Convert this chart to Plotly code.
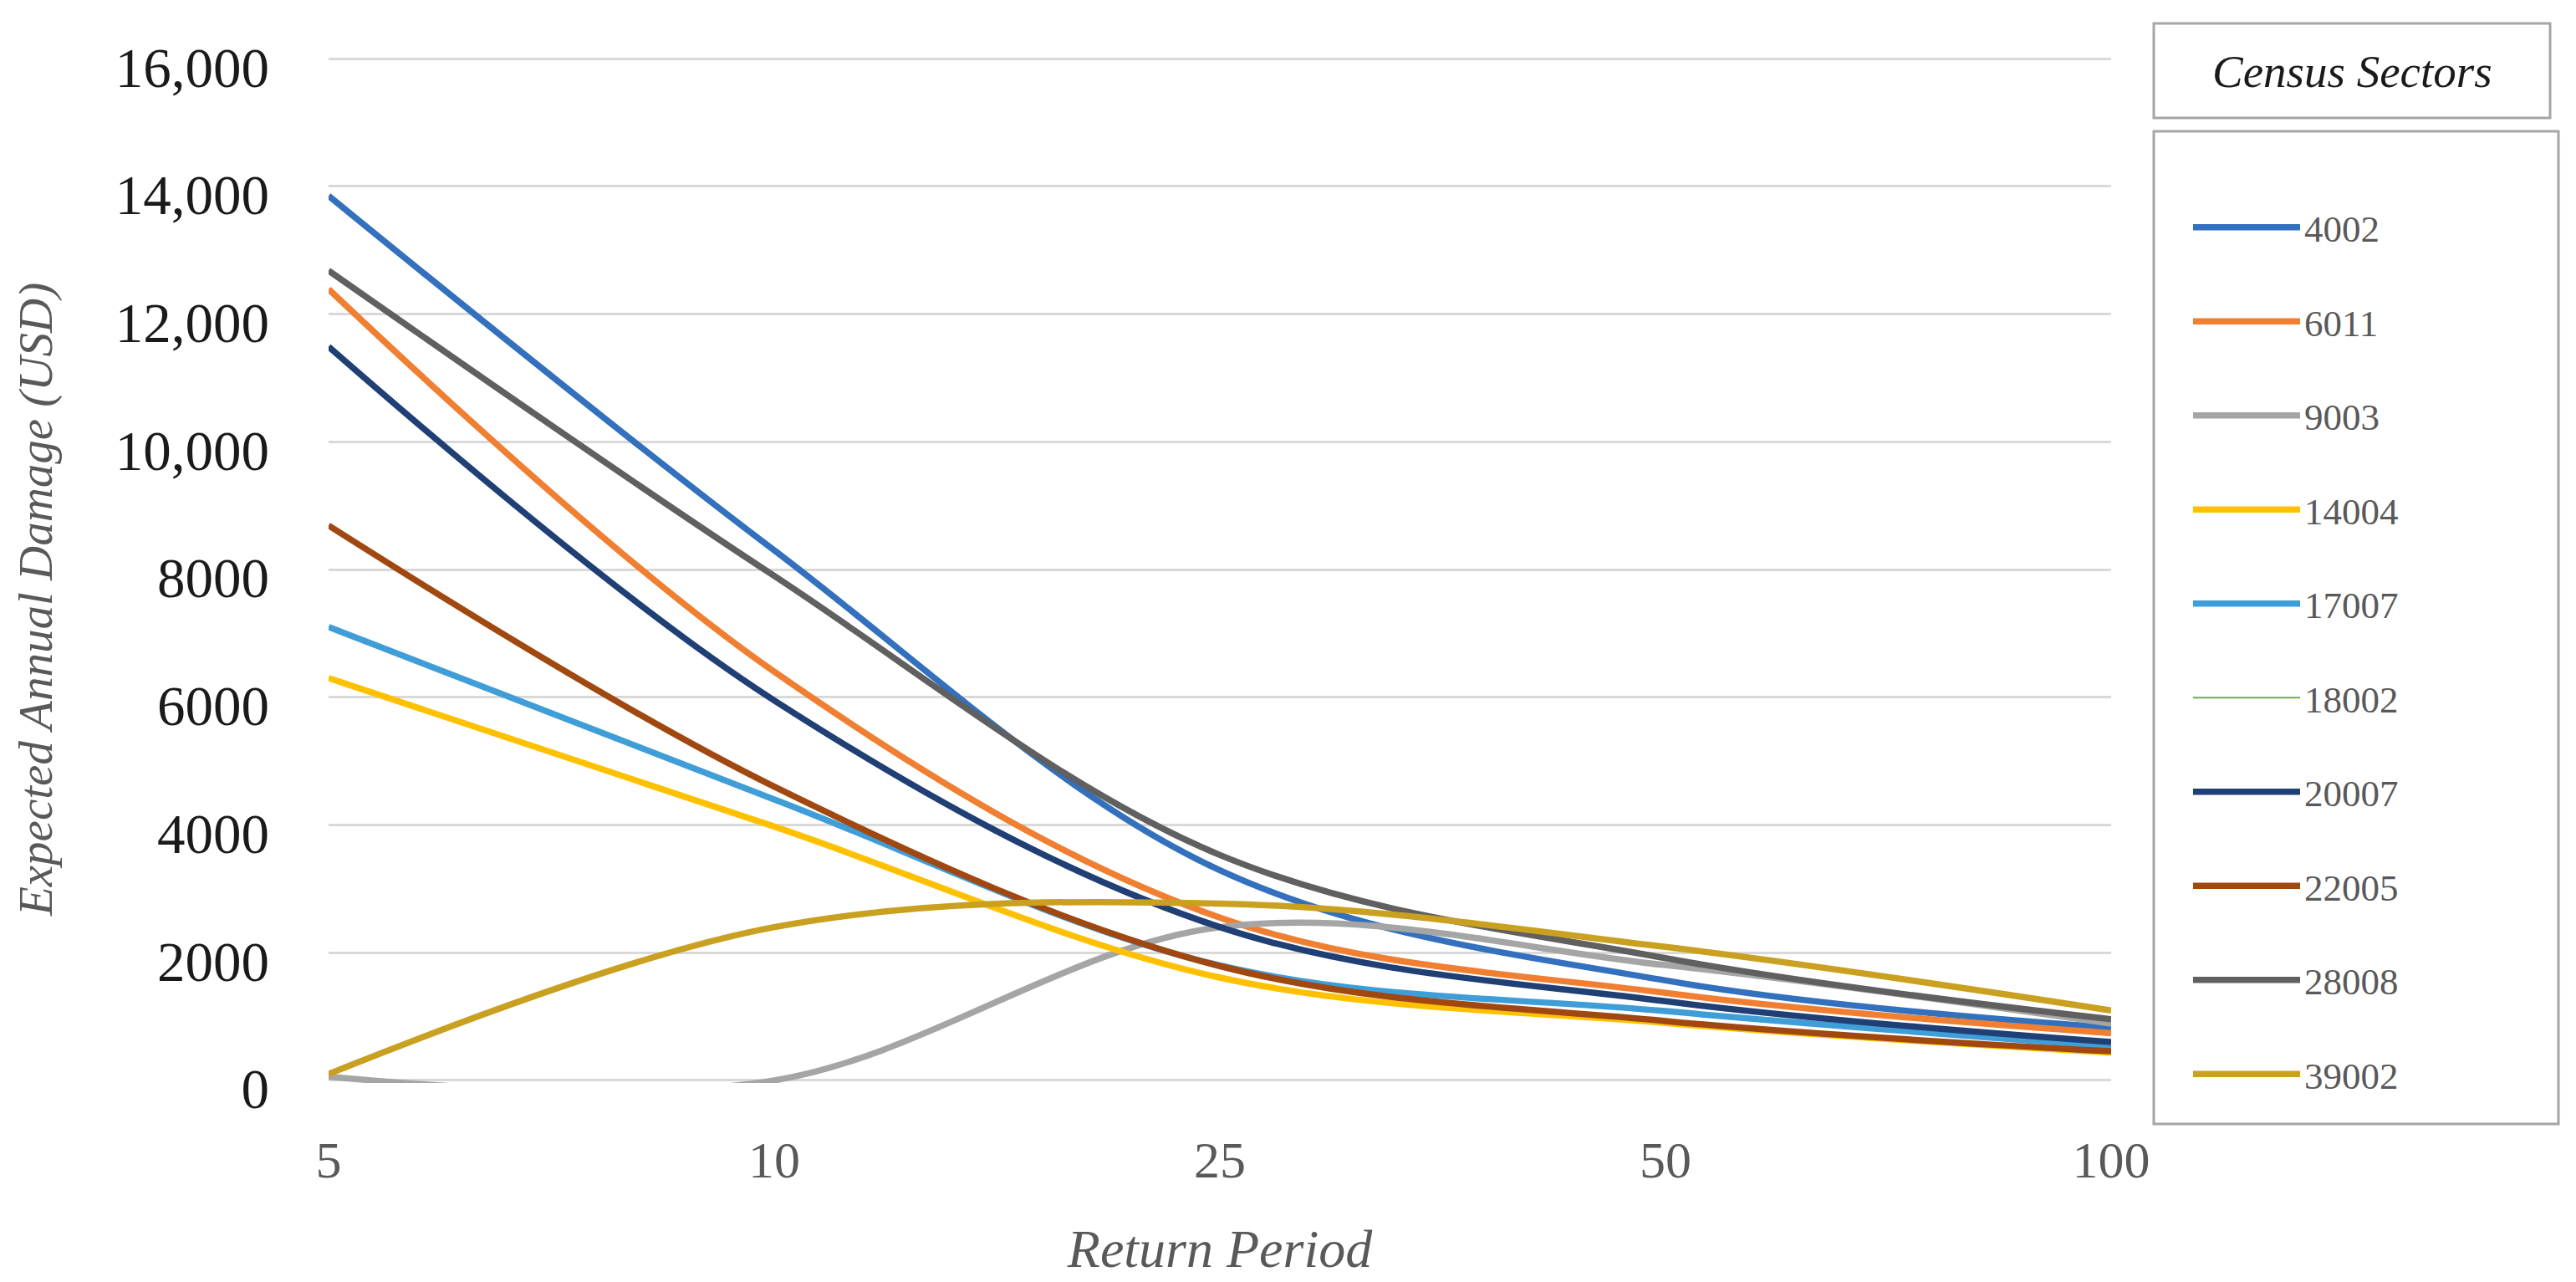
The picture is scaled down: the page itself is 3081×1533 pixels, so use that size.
import plotly.graph_objects as go

# ---- data ----
return_periods = ["5", "10", "25", "50", "100"]
sector_names = ["4002", "6011", "9003", "14004", "17007", "18002", "20007", "22005", "28008", "39002"]

s4002 = [13850, 8300, 3290, 1565, 826]
s6011 = [12390, 6400, 2550, 1370, 740]
s9003 = [60, 0, 2400, 1805, 890]
s14004 = [6300, 3975, 1610, 900, 435]
s17007 = [7100, 4400, 1800, 1085, 530]
s18002 = [None, None, None, None, None]
s20007 = [11490, 5950, 2400, 1240, 600]
s22005 = [8690, 4600, 1790, 930, 457]
s28008 = [12680, 7900, 3530, 1915, 957]
s39002 = [100, 2400, 2770, 2090, 1096]

y_tick_values = [0, 2000, 4000, 6000, 8000, 10000, 12000, 14000, 16000]
y_tick_labels = ["0", "2000", "4000", "6000", "8000", "10,000", "12,000", "14,000", "16,000"]

series = [s4002, s6011, s9003, s14004, s17007, s18002, s20007, s22005, s28008, s39002]

# ---- styles ----
colors = ["#3370BE", "#F07F32", "#A5A5A5", "#FFC000", "#3F9DD8",
          "#70AD47", "#1F3F75", "#A0480F", "#606060", "#C9A020"]
widths = [7.5, 7.5, 7.5, 7.5, 7.5, 2, 7.5, 7.5, 7.5, 7.5]

OFF = 8                      # page body margin
W, H = 3081 - OFF, 1533 - OFF
L, R, T, B = 385, 556, 59, 238
pw, ph = W - L - R, H - T - B

def px(xr):
    return (xr - OFF - L) / pw

def py(yr):
    return (H - B - (yr - OFF)) / ph

fig = go.Figure()
for name, vals, c, w in zip(sector_names, series, colors, widths):
    fig.add_trace(go.Scatter(
        x=return_periods, y=vals, name=name, mode="lines",
        line=dict(color=c, width=w, shape="spline", smoothing=1.0),
        legendgroup=name, connectgaps=False,
    ))

serif = "Liberation Serif"

fig.update_layout(
    width=W, height=H,
    margin=dict(l=L, r=R, t=T, b=B, autoexpand=False),
    plot_bgcolor="white", paper_bgcolor="white",
    font=dict(family=serif, color="#262626", size=64),
    xaxis=dict(
        type="category", range=[0, 4],
        showgrid=False, zeroline=False, showline=False,
        ticks="", tickfont=dict(size=62, color="#595959"),
        ticklabelstandoff=50,
        title=dict(text="Return Period", standoff=50,
                   font=dict(size=64, color="#595959", style="italic")),
    ),
    yaxis=dict(
        range=[-40, 16040], tickvals=y_tick_values, ticktext=y_tick_labels,
        showgrid=True, gridcolor="#D9D9D9", gridwidth=3,
        zeroline=False, showline=False, ticks="",
        tickfont=dict(size=67, color="#1A1A1A"),
        ticklabelstandoff=70, ticklabelshift=10,
    ),
    showlegend=True,
    legend=dict(
        x=px(2618), xanchor="left", y=py(236), yanchor="top",
        bgcolor="rgba(0,0,0,0)", borderwidth=0,
        font=dict(size=45, color="#595959", family=serif),
        tracegroupgap=51, itemwidth=128,
    ),
)

# y-axis title
fig.add_annotation(xref="paper", yref="paper", x=px(43), y=py(717),
                   text="Expected Annual Damage (USD)", textangle=-90,
                   showarrow=False, xanchor="center", yanchor="middle",
                   font=dict(size=57, color="#595959", family=serif, style="italic"))

# legend title box and legend frame
fig.add_shape(type="rect", xref="paper", yref="paper",
              x0=px(2576), x1=px(3050), y0=py(141), y1=py(28),
              line=dict(color="#A6A6A6", width=3), fillcolor="white", layer="below")
fig.add_shape(type="rect", xref="paper", yref="paper",
              x0=px(2576), x1=px(3060), y0=py(1344), y1=py(157),
              line=dict(color="#A6A6A6", width=3), fillcolor="rgba(0,0,0,0)", layer="below")
fig.add_annotation(xref="paper", yref="paper", x=px(2813), y=py(85),
                   text="Census Sectors", showarrow=False,
                   xanchor="center", yanchor="middle",
                   font=dict(size=55, color="#1A1A1A", family=serif, style="italic"))

fig.write_html("out.html")
